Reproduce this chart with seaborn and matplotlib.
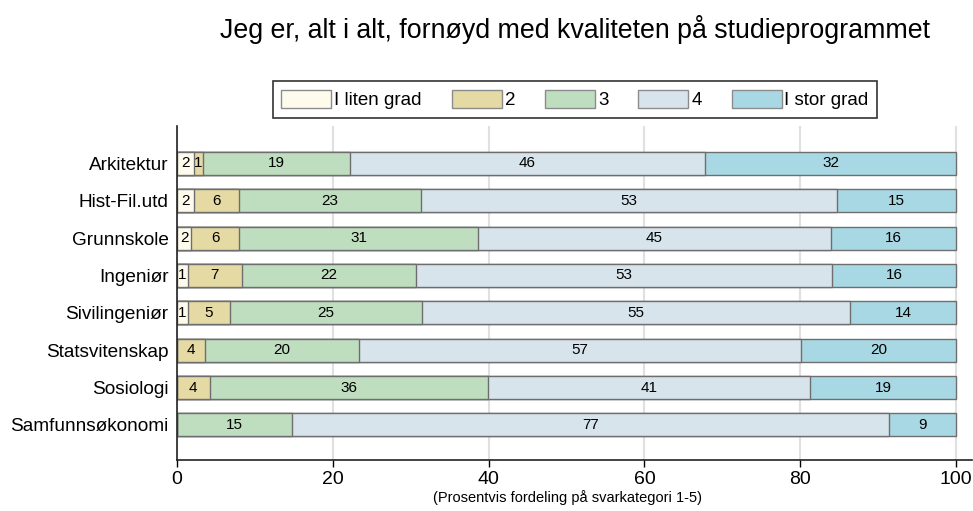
import matplotlib
matplotlib.use("Agg")
import matplotlib.pyplot as plt
from matplotlib.patches import Patch
import seaborn as sns
import numpy as np
import pandas as pd

# Data (percent per answer category)
programmes = ['Arkitektur', 'Hist-Fil.utd', 'Grunnskole', 'Ingeniør',
              'Sivilingeniør', 'Statsvitenskap', 'Sosiologi', 'Samfunnsøkonomi']
cat_names = ['I liten grad', '2', '3', '4', 'I stor grad']
cat1 = [2.2, 2.2, 1.8, 1.4, 1.4, 0.0, 0.0, 0.0]
cat2 = [1.1, 5.8, 6.2, 6.9, 5.4, 3.6, 4.2, 0.0]
cat3 = [18.9, 23.3, 30.6, 22.4, 24.6, 19.8, 35.7, 14.8]
cat4 = [45.6, 53.4, 45.4, 53.4, 55.0, 56.7, 41.4, 76.6]
cat5 = [32.2, 15.3, 16.0, 15.9, 13.6, 19.9, 18.7, 8.6]
colors = ['#FFFBEC', '#E5D9A4', '#BFDDBF', '#D8E4EC', '#A9D8E5']

df = pd.DataFrame({'I liten grad': cat1, '2': cat2, '3': cat3, '4': cat4,
                   'I stor grad': cat5}, index=programmes)
cum = df.cumsum(axis=1)

sns.set_style("white")
plt.rcParams['font.family'] = ['Liberation Sans', 'DejaVu Sans']
plt.rcParams['text.color'] = 'black'
plt.rcParams['xtick.color'] = 'black'
plt.rcParams['ytick.color'] = 'black'

fig = plt.figure(figsize=(9.73, 5.11), dpi=100)
ax = fig.add_axes([0.1819, 0.0998, 0.8167, 0.6536])

# vertical grid behind the bars
ax.set_axisbelow(True)
ax.xaxis.grid(True, color='#E0E0E0', linewidth=1.5)

# stacked bars: draw cumulative totals from the largest down
for name, col in reversed(list(zip(cat_names, colors))):
    sns.barplot(x=cum[name].values, y=programmes, color=col, orient='h',
                width=0.62, edgecolor='#6E6E6E', linewidth=1.0, ax=ax,
                saturation=1)

# segment labels
for i, prog in enumerate(programmes):
    left = 0
    for name in cat_names:
        v = df.loc[prog, name]
        if v > 0:
            ax.text(left + v / 2, i, f'{v:.0f}', ha='center', va='center',
                    fontsize=11, color='black')
        left += v

ax.set_xlim(0, 102)
ax.set_ylim(len(programmes) - 0.06, -1.0)
ax.set_xticks([0, 20, 40, 60, 80, 100])
ax.tick_params(axis='x', labelsize=14, length=5, width=1, color='black',
               direction='out', bottom=True, pad=3)
ax.tick_params(axis='y', labelsize=13.7, length=0, pad=6)
ax.set_xlabel('')
ax.set_ylabel('')
for s in ['top', 'right']:
    ax.spines[s].set_visible(False)
for s in ['left', 'bottom']:
    ax.spines[s].set_color('#222222')
    ax.spines[s].set_linewidth(1.2)

handles = [Patch(facecolor=c, edgecolor='#8C8C8C', label=n)
           for n, c in zip(cat_names, colors)]
leg = fig.legend(handles=handles, ncol=5, loc='center',
                 bbox_to_anchor=(0.591, 0.8053), fontsize=13.5, frameon=True,
                 fancybox=False, edgecolor='black', handlelength=2.67,
                 handleheight=1.1, handletextpad=0.15, columnspacing=1.6,
                 borderpad=0.45, borderaxespad=0)
leg.get_frame().set_linewidth(1.2)

fig.text(0.591, 0.943, 'Jeg er, alt i alt, fornøyd med kvaliteten på studieprogrammet',
         ha='center', va='center', fontsize=19.3)
fig.text(0.583, 0.027, '(Prosentvis fordeling på svarkategori 1-5)',
         ha='center', va='center', fontsize=10.5)

fig.savefig('out.png', dpi=100)
